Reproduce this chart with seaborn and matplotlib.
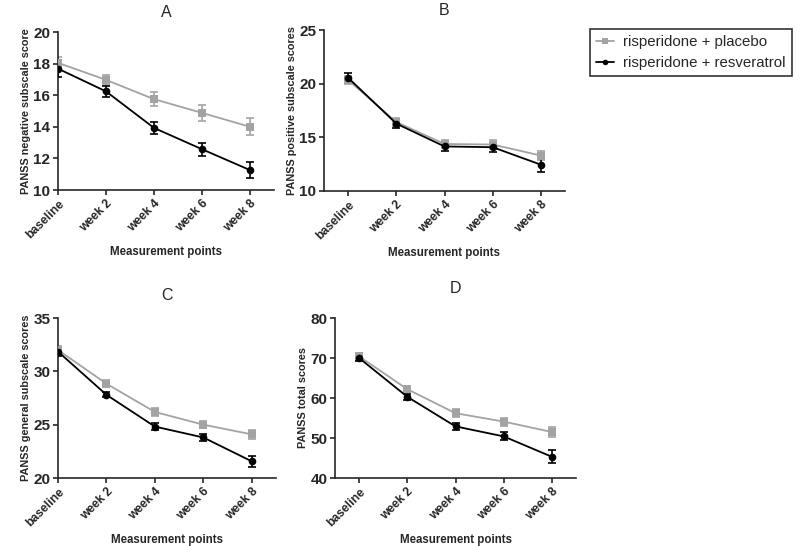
import numpy as np
import pandas as pd
import matplotlib
matplotlib.use("Agg")
import matplotlib.pyplot as plt
import seaborn as sns

# Data (mean +/- SEM)
timepoints = ["baseline", "week 2", "week 4", "week 6", "week 8"]
groups = ["risperidone + placebo", "risperidone + resveratrol"]

neg_placebo = [18.05, 16.97, 15.75, 14.88, 14.0]
neg_placebo_err = [0.35, 0.3, 0.45, 0.5, 0.55]
neg_resv = [17.68, 16.24, 13.93, 12.58, 11.26]
neg_resv_err = [0.5, 0.35, 0.4, 0.4, 0.5]

pos_placebo = [20.35, 16.43, 14.38, 14.33, 13.3]
pos_placebo_err = [0.4, 0.4, 0.4, 0.4, 0.45]
pos_resv = [20.55, 16.28, 14.15, 14.08, 12.45]
pos_resv_err = [0.4, 0.4, 0.45, 0.4, 0.65]

gen_placebo = [32.0, 28.84, 26.19, 25.0, 24.09]
gen_placebo_err = [0.4, 0.35, 0.4, 0.35, 0.4]
gen_resv = [31.85, 27.8, 24.82, 23.8, 21.56]
gen_resv_err = [0.45, 0.25, 0.3, 0.3, 0.5]

tot_placebo = [70.4, 62.2, 56.2, 54.1, 51.5]
tot_placebo_err = [0.8, 0.8, 1.0, 1.0, 1.2]
tot_resv = [70.0, 60.3, 52.9, 50.4, 45.3]
tot_resv_err = [0.8, 0.8, 0.9, 1.0, 1.6]

sns.set_style("ticks")
plt.rcParams['font.family'] = ['Liberation Sans', 'DejaVu Sans']

colors = {groups[0]: "#a3a3a3", groups[1]: "#000000"}
markers = {groups[0]: "s", groups[1]: "o"}


def make_df(placebo, resv):
    x = np.arange(len(timepoints))
    df = pd.DataFrame({
        "x": np.concatenate([x, x]),
        "score": placebo + resv,
        "group": [groups[0]] * len(x) + [groups[1]] * len(x),
    })
    return df


def panel(ax, title, ylabel, placebo, p_err, resv, r_err, ylim, yticks, xlim, tpad):
    df = make_df(placebo, resv)
    x = np.arange(len(timepoints))
    # error bars first so the markers sit on top
    ax.errorbar(x, placebo, yerr=p_err, fmt="none", ecolor=colors[groups[0]],
                elinewidth=1.2, capsize=3, capthick=1.2, zorder=2)
    ax.errorbar(x, resv, yerr=r_err, fmt="none", ecolor=colors[groups[1]],
                elinewidth=1.2, capsize=3, capthick=1.2, zorder=3)
    sns.lineplot(data=df, x="x", y="score", hue="group", style="group",
                 palette=colors, markers=markers, dashes=False,
                 markersize=5.5, markeredgewidth=0, linewidth=1.3,
                 legend=False, ax=ax, zorder=4)
    ax.set_xlim(*xlim)
    ax.set_ylim(*ylim)
    ax.set_yticks(yticks)
    ax.set_xticks(x)
    ax.set_xticklabels(timepoints, rotation=45, ha="right",
                       rotation_mode="anchor", fontweight="bold", fontsize=8.7)
    for lab in ax.get_yticklabels():
        lab.set_fontweight("bold")
        lab.set_fontsize(11)
    ax.set_title(title, fontsize=11.5, pad=tpad)
    ax.set_ylabel(ylabel, fontweight="bold", fontsize=7.8, labelpad=2)
    ax.set_xlabel("Measurement points", fontweight="bold", fontsize=8.3, labelpad=4)
    ax.tick_params(axis="both", length=3.5, width=1.2, pad=2)
    for s in ["left", "bottom"]:
        ax.spines[s].set_linewidth(1.2)
    sns.despine(ax=ax)


fig = plt.figure(figsize=(8, 5.46), dpi=100)
W, H = 800, 546


def add_axes(left, right, top, bottom):
    return fig.add_axes([left / W, 1 - bottom / H, (right - left) / W, (bottom - top) / H])


axA = add_axes(58, 274, 32, 190)
axB = add_axes(324, 565, 30, 191)
axC = add_axes(58, 276, 318, 478)
axD = add_axes(335, 576, 318, 478)

panel(axA, "A", "PANSS negative subscale score", neg_placebo, neg_placebo_err,
      neg_resv, neg_resv_err, (10, 20), [10, 12, 14, 16, 18, 20], (0, 4.5), 11)
panel(axB, "B", "PANSS positive subscale scores", pos_placebo, pos_placebo_err,
      pos_resv, pos_resv_err, (10, 25), [10, 15, 20, 25], (-0.5, 4.5), 11)
panel(axC, "C", "PANSS general subscale scores", gen_placebo, gen_placebo_err,
      gen_resv, gen_resv_err, (20, 35), [20, 25, 30, 35], (0, 4.5), 13)
panel(axD, "D", "PANSS total scores", tot_placebo, tot_placebo_err,
      tot_resv, tot_resv_err, (40, 80), [40, 50, 60, 70, 80], (-0.5, 4.5), 18)

# legend in the upper right corner of the figure
handles = [plt.Line2D([], [], color=colors[g], marker=markers[g], markersize=4,
                      markeredgewidth=0, linewidth=1.3) for g in groups]
leg = fig.legend(handles, groups, loc="upper left", bbox_to_anchor=(590 / W, 1 - 29 / H),
                 frameon=True, fancybox=False, edgecolor="black", fontsize=10.8,
                 handlelength=1.2, handletextpad=0.6, borderpad=0.4, labelspacing=0.45,
                 borderaxespad=0)
leg.get_frame().set_linewidth(1.2)

fig.savefig("out.png", dpi=100)
